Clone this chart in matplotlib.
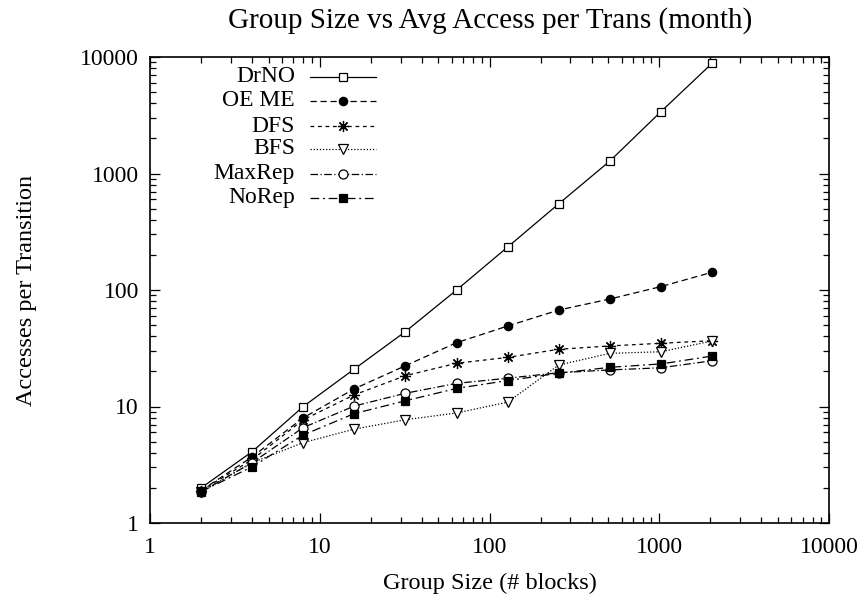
import matplotlib
matplotlib.use("Agg")
import matplotlib.pyplot as plt
from matplotlib.lines import Line2D
from matplotlib.ticker import LogLocator, NullFormatter, FixedLocator, FixedFormatter

plt.rcParams['font.family'] = ['Liberation Serif', 'DejaVu Serif']

group_sizes = [2, 4, 8, 16, 32, 64, 128, 256, 512, 1024, 2048]
drno   = [2.0, 4.1, 10.0, 21.0, 44.0, 100.0, 234.0, 550.0, 1280.0, 3400.0, 8830.0]
oeme   = [1.9, 3.7, 8.0, 14.2, 22.4, 35.3, 49.1, 67.3, 83.7, 107.0, 142.0]
dfs    = [1.9, 3.5, 7.7, 12.6, 18.4, 23.5, 26.4, 31.0, 33.1, 34.9, 36.7]
bfs    = [1.85, 3.3, 4.9, 6.4, 7.7, 8.8, 10.9, 22.7, 28.6, 29.5, 36.5]
maxrep = [1.85, 3.3, 6.6, 10.1, 13.0, 15.8, 17.5, 19.5, 20.6, 21.5, 24.7]
norep  = [1.86, 3.04, 5.7, 8.7, 11.2, 14.3, 16.7, 19.3, 21.7, 23.2, 27.1]

labels = ["DrNO", "OE ME", "DFS", "BFS", "MaxRep", "NoRep"]
tick_vals = [1, 10, 100, 1000, 10000]
tick_labels = ["1", "10", "100", "1000", "10000"]

W, H = 867, 601
fig = plt.figure(figsize=(W / 100, H / 100), dpi=100)
ax = fig.add_axes([150 / W, 1 - 523 / H, (829 - 150) / W, (523 - 57) / H])

lw = 0.9
styles = [
    dict(ls='-', marker='s', ms=6, mfc='white', mec='black', mew=0.9),
    dict(ls=(0, (5, 3)), marker='o', ms=6, mfc='black', mec='black', mew=0.9),
    dict(ls=(0, (3, 3)), marker=(8, 2, 0), ms=8, mfc='black', mec='black', mew=0.9),
    dict(ls=(0, (1, 1.5)), marker='v', ms=6.5, mfc='white', mec='black', mew=0.9),
    dict(ls=(0, (6, 2, 1, 2)), marker='o', ms=6.5, mfc='white', mec='black', mew=0.9),
    dict(ls=(0, (7, 3, 1.5, 3)), marker='s', ms=6, mfc='black', mec='black', mew=0.9),
]
series = [drno, oeme, dfs, bfs, maxrep, norep]

for vals, st, lab in zip(series, styles, labels):
    ax.plot(group_sizes, vals, color='black', lw=lw, label=lab, **st)

ax.set_xscale('log')
ax.set_yscale('log')
ax.set_xlim(1, 10000)
ax.set_ylim(1, 10000)

for axis in (ax.xaxis, ax.yaxis):
    axis.set_major_locator(FixedLocator(tick_vals))
    axis.set_major_formatter(FixedFormatter(tick_labels))
    axis.set_minor_locator(LogLocator(base=10, subs=range(2, 10), numticks=20))
    axis.set_minor_formatter(NullFormatter())

ax.tick_params(which='both', direction='in', top=True, right=True, labelsize=17)
ax.tick_params(which='major', length=7, width=0.9)
ax.tick_params(which='minor', length=4, width=0.9)
ax.tick_params(axis='x', pad=10)
ax.tick_params(axis='y', pad=8)
for s in ax.spines.values():
    s.set_linewidth(1.2)

fig.text(490 / W, 1 - 21 / H, "Group Size vs Avg Access per Trans (month)",
         ha='center', va='center', fontsize=21)
ax.set_xlabel("Group Size (# blocks)", fontsize=17.5, labelpad=11)
ax.set_ylabel("Accesses per Transition", fontsize=17.5, labelpad=31)

# gnuplot-style legend: right-aligned text followed by line sample
row_y = [77, 101, 126, 149, 174, 198]
text_right = 295
line_x0, line_x1, mark_x = 310, 376, 343
for yy, st, lab in zip(row_y, styles, labels):
    fy = 1 - yy / H
    fig.text(text_right / W, fy, lab, ha='right', va='center', fontsize=17)
    st_line = {k: v for k, v in st.items() if k == 'ls'}
    fig.add_artist(Line2D([line_x0 / W, line_x1 / W], [fy, fy], color='black', lw=lw,
                          transform=fig.transFigure, **st_line))
    st_mark = {k: v for k, v in st.items() if k != 'ls'}
    fig.add_artist(Line2D([mark_x / W], [fy], color='black', ls='none',
                          transform=fig.transFigure, **st_mark))

fig.savefig("out.png", dpi=100)
